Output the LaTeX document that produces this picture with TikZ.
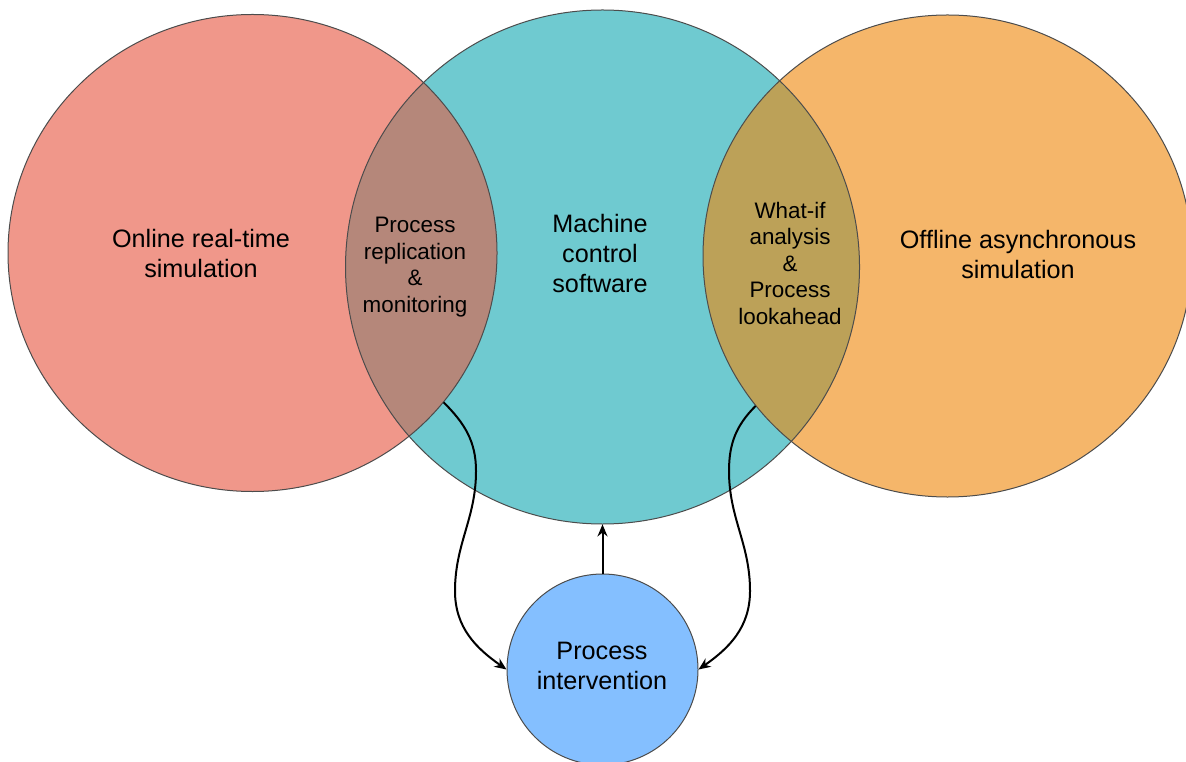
\documentclass[tikz,border=0pt]{standalone}
\usepackage{fontspec}
\setmainfont{Liberation Sans}
\usetikzlibrary{shapes.geometric,arrows.meta}

\definecolor{salmon}{HTML}{F0978A}
\definecolor{teal}{HTML}{6FCAD0}
\definecolor{apricot}{HTML}{F5B66A}
\definecolor{skyblue}{HTML}{84BFFF}
\definecolor{lensleft}{HTML}{B5877A}
\definecolor{lensright}{HTML}{BCA158}

\begin{document}
\begin{tikzpicture}[x=0.5pt,y=0.5pt,
    venn/.style={ellipse, inner sep=0pt},
    rim/.style={draw=black!70, line width=0.5pt},
    link/.style={-{Stealth[length=6pt,width=5pt]}, line width=1pt},
    big/.style={font=\fontsize{12.6}{15}\selectfont, align=center},
    small/.style={font=\fontsize{11.2}{13.25}\selectfont, align=center}]

\useasboundingbox (0,0) rectangle (1186,761);

% Circles
\node[venn, fill=teal, minimum width=257pt, minimum height=257pt] (machine) at (602.5,494) {};
\node[venn, fill=salmon, minimum width=244.5pt, minimum height=238.5pt] (online) at (252.5,508) {};
\node[venn, fill=apricot, minimum width=244.5pt, minimum height=241pt] (offline) at (947.5,505) {};

% Overlaps
\begin{scope}
    \clip (online.center) ellipse [x radius=122.25pt, y radius=119.25pt];
    \fill[lensleft] (machine.center) circle [radius=128.5pt];
\end{scope}
\begin{scope}
    \clip (offline.center) ellipse [x radius=122.25pt, y radius=120.5pt];
    \fill[lensright] (machine.center) circle [radius=128.5pt];
\end{scope}

\draw[rim] (online.center) ellipse [x radius=122.25pt, y radius=119.25pt];
\draw[rim] (machine.center) circle [radius=128.5pt];
\draw[rim] (offline.center) ellipse [x radius=122.25pt, y radius=120.5pt];

% Intervention
\node[circle, inner sep=0pt, fill=skyblue, rim, minimum size=95.5pt] (interv) at (602.5,91.5) {};

% Labels
\node[big] (onlinetext) at (201,508) {Online real-time\\simulation};
\node[small] (replication) at (415,494) {Process\\replication\\\&\\monitoring};
\node[big] (machinetext) at (600,508) {Machine\\control\\software};
\node[small] (whatif) at (790,498) {What-if\\analysis\\\&\\Process\\lookahead};
\node[big] (offlinetext) at (1018,507) {Offline asynchronous\\simulation};
\node[big] (intervtext) at (602,95) {Process\\intervention};

% Arrows
\draw[link] (interv.north) -- (machine.south);
\draw[link] (online.-38) to[out=-45,in=90] (476,290) to[out=-90,in=90] (455,170) to[out=-90,in=145] (interv.west);
\draw[link] (offline.-142) to[out=-135,in=90] (729,290) to[out=-90,in=90] (750,170) to[out=-90,in=35] (interv.east);

\end{tikzpicture}
\end{document}
